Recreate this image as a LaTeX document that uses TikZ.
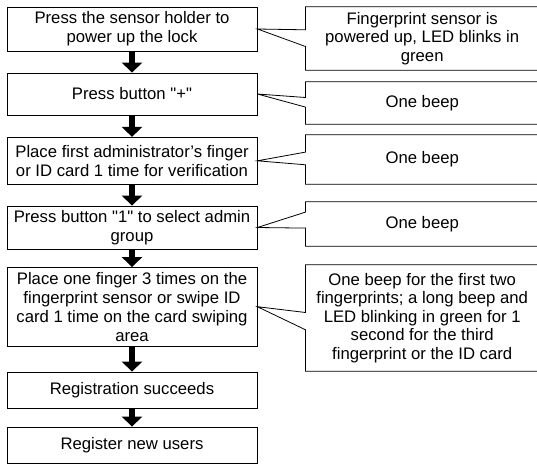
\documentclass[tikz,border=0pt]{standalone}
\usepackage{fontspec}
\setmainfont{Liberation Sans}
\usetikzlibrary{arrows.meta}

\begin{document}
\begin{tikzpicture}[x=1pt, y=-1pt,
    stepbox/.style={draw, line width=0.8pt, minimum width=250pt, align=center, inner sep=1pt,
        font=\fontsize{16.7}{19}\selectfont},
    notebox/.style={minimum width=233pt, align=center, inner sep=1pt,
        font=\fontsize{16.7}{18.6}\selectfont},
    flow/.style={line width=6pt, -{Triangle[width=20pt,length=10pt]}},
    note/.style={line width=0.8pt, line join=miter}]
  \useasboundingbox (0,0) rectangle (537,471);

  % steps on the left
  \node[stepbox, minimum height=44pt] (s1) at (132, 29) {Press the sensor holder to\\power up the lock};
  \node[stepbox, minimum height=42pt] (s2) at (132, 94) {Press button \textquotedbl+\textquotedbl};
  \node[stepbox, minimum height=47pt] (s3) at (132, 160.8) {Place first administrator’s finger\\or ID card 1 time for verification};
  \node[stepbox, minimum height=43pt] (s4) at (132, 227.5) {Press button \textquotedbl1\textquotedbl\ to select admin\\group};
  \node[stepbox, minimum height=78.5pt] (s5) at (132, 306.7) {Place one finger 3 times on the\\fingerprint sensor or swipe ID\\card 1 time on the card swiping\\area};
  \node[stepbox, minimum height=36pt] (s6) at (132, 390) {Registration succeeds};
  \node[stepbox, minimum height=36pt] (s7) at (132, 445) {Register new users};

  \draw[flow] (s1) -- (s2);
  \draw[flow] (s2) -- (s3);
  \draw[flow] (s3) -- (s4);
  \draw[flow] (s4) -- (s5);
  \draw[flow] (s5) -- (s6);
  \draw[flow] (s6) -- (s7);

  % responses on the right
  \node[notebox, minimum height=63pt] (c1) at (422.2, 38.5) {Fingerprint sensor is\\powered up, LED blinks in\\green};
  \node[notebox, minimum height=42pt] (c2) at (422.2, 103) {One beep};
  \node[notebox, minimum height=49pt] (c3) at (422.2, 159.5) {One beep};
  \node[notebox, minimum height=44pt] (c4) at (422.2, 224) {One beep};
  \node[notebox, minimum height=106pt] (c5) at (422.2, 318) {One beep for the first two\\fingerprints; a long beep and\\LED blinking in green for 1\\second for the third\\fingerprint or the ID card};

  \draw[note] (c1.south west) -- ([yshift=-39.7pt]c1.north west) -- (s1.east) -- ([yshift=-23pt]c1.north west)
    -- (c1.north west) -- (c1.north east) -- (c1.south east) -- cycle;
  \draw[note] (c2.south west) -- ([yshift=-25.3pt]c2.north west) -- (s2.east) -- ([yshift=-15.7pt]c2.north west)
    -- (c2.north west) -- (c2.north east) -- (c2.south east) -- cycle;
  \draw[note] (c3.south west) -- ([yshift=-30pt]c3.north west) -- (s3.east) -- ([yshift=-17.3pt]c3.north west)
    -- (c3.north west) -- (c3.north east) -- (c3.south east) -- cycle;
  \draw[note] (c4.south west) -- ([yshift=-26.3pt]c4.north west) -- (s4.east) -- ([yshift=-10.3pt]c4.north west)
    -- (c4.north west) -- (c4.north east) -- (c4.south east) -- cycle;
  \draw[note] (c5.south west) -- ([yshift=-65pt]c5.north west) -- (s5.east) -- ([yshift=-47.7pt]c5.north west)
    -- (c5.north west) -- (c5.north east) -- (c5.south east) -- cycle;
\end{tikzpicture}
\end{document}
